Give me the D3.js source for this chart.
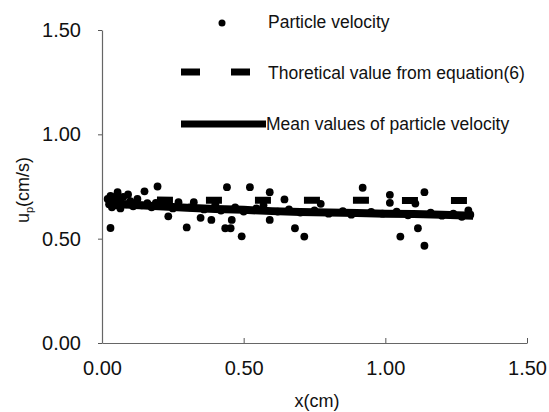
<!DOCTYPE html>
<html lang="en">
<head>
<meta charset="UTF-8">
<script src="https://d3js.org/d3.v7.min.js"></script>
<style>
  html, body { margin: 0; padding: 0; background: #fff; overflow: hidden; }
  svg text { font-family: "Liberation Sans", Arial, sans-serif; fill: #111; }
</style>
</head>
<body>
<svg id="chart" width="549" height="412"></svg>
<script>
// particle velocity measurements (x in cm, u in cm/s)
const dotX = [0.030, 0.055, 0.092, 0.150, 0.196, 0.234, 0.299, 0.324, 0.348, 0.386,
  0.435, 0.441, 0.454, 0.458, 0.493, 0.522, 0.592, 0.592, 0.644, 0.681,
  0.714, 0.772, 0.920, 1.016, 1.016, 1.053, 1.106, 1.115, 1.138, 1.138, 1.293,
  // dense band near the mean
  0.020, 0.025, 0.030, 0.035, 0.040, 0.045, 0.050, 0.060, 0.065, 0.075,
  0.085, 0.100, 0.110, 0.125, 0.140, 0.160, 0.175, 0.190, 0.215, 0.250,
  0.270, 0.310, 0.360, 0.400, 0.420, 0.470, 0.500, 0.545, 0.570, 0.620,
  0.660, 0.700, 0.750, 0.800, 0.850, 0.880, 0.950, 0.990, 1.040, 1.080,
  1.160, 1.200, 1.240, 1.270, 1.300];
const dotY = [0.551, 0.723, 0.712, 0.727, 0.750, 0.607, 0.554, 0.675, 0.600, 0.590,
  0.550, 0.747, 0.550, 0.590, 0.511, 0.747, 0.723, 0.590, 0.688, 0.550,
  0.510, 0.667, 0.744, 0.710, 0.672, 0.510, 0.668, 0.550, 0.723, 0.466, 0.635,
  0.690, 0.665, 0.705, 0.650, 0.680, 0.700, 0.660, 0.690, 0.645, 0.700,
  0.665, 0.680, 0.655, 0.690, 0.660, 0.670, 0.650, 0.672, 0.660, 0.645,
  0.675, 0.650, 0.640, 0.665, 0.635, 0.650, 0.630, 0.645, 0.660, 0.630,
  0.640, 0.625, 0.635, 0.620, 0.632, 0.615, 0.628, 0.620, 0.630, 0.612,
  0.625, 0.610, 0.620, 0.605, 0.615];

// mean values of particle velocity
const meanX = [0.02, 0.1, 0.2, 0.3, 0.4, 0.5, 0.6, 0.7, 0.8, 0.9, 1.0, 1.1, 1.2, 1.31];
const meanY = [0.668, 0.662, 0.655, 0.648, 0.642, 0.638, 0.632, 0.628, 0.625, 0.623, 0.620, 0.618, 0.615, 0.610];

// theoretical value from equation(6)
const theoX = [0.021, 1.31];
const theoY = [0.685, 0.683];

const xTicks = [0, 0.5, 1.0, 1.5];
const yTicks = [0, 0.5, 1.0, 1.5];

const svg = d3.select("#chart");
const x = d3.scaleLinear().domain([0, 1.5]).range([102, 527]);
const y = d3.scaleLinear().domain([0, 1.5]).range([343, 30]);

// axes
const xAxis = svg.append("g").attr("transform", `translate(0,${y(0)})`)
  .call(d3.axisBottom(x).tickValues(xTicks).tickSize(-5).tickSizeOuter(0).tickFormat(d3.format(".2f")));
const yAxis = svg.append("g").attr("transform", `translate(${x(0)},0)`)
  .call(d3.axisLeft(y).tickValues(yTicks).tickSize(4).tickSizeOuter(0).tickFormat(d3.format(".2f")));
[xAxis, yAxis].forEach(a => {
  a.select(".domain").attr("stroke", "#666").attr("stroke-width", 1.2);
  a.selectAll(".tick line").attr("stroke", "#555");
  a.selectAll(".tick text").attr("font-size", 20).attr("fill", "#111")
    .attr("font-family", "Liberation Sans, Arial, sans-serif");
});
xAxis.selectAll(".tick text").attr("y", 18);
yAxis.selectAll(".tick text").attr("x", -21);

// theoretical dashed line
const line = d3.line().x(d => x(d[0])).y(d => y(d[1]));
svg.append("path")
  .datum(d3.zip(theoX, theoY))
  .attr("d", line)
  .attr("fill", "none").attr("stroke", "#000")
  .attr("stroke-width", 7).attr("stroke-dasharray", "16,33");

// points
svg.append("g").selectAll("circle")
  .data(d3.zip(dotX, dotY))
  .join("circle")
  .attr("cx", d => x(d[0])).attr("cy", d => y(d[1])).attr("r", 3.9)
  .attr("fill", "#000");

// mean line
svg.append("path")
  .datum(d3.zip(meanX, meanY))
  .attr("d", line)
  .attr("fill", "none").attr("stroke", "#000")
  .attr("stroke-width", 8);

// legend
const lg = svg.append("g");
lg.append("circle").attr("cx", 222).attr("cy", 23).attr("r", 3.5).attr("fill", "#000");
lg.append("line").attr("x1", 181).attr("x2", 250).attr("y1", 72).attr("y2", 72)
  .attr("stroke", "#000").attr("stroke-width", 7).attr("stroke-dasharray", "19,31");
lg.append("line").attr("x1", 181).attr("x2", 266).attr("y1", 124).attr("y2", 124)
  .attr("stroke", "#000").attr("stroke-width", 7);
const legendText = ["Particle velocity", "Thoretical value from equation(6)", "Mean values of particle velocity"];
const legendY = [28, 79, 130];
const legendX = [268, 268, 266];
lg.selectAll("text").data(legendText).join("text")
  .attr("x", (d, i) => legendX[i]).attr("y", (d, i) => legendY[i])
  .attr("font-size", 17.5).text(d => d);

// axis titles
svg.append("text").attr("x", 317).attr("y", 407).attr("text-anchor", "middle")
  .attr("font-size", 18).text("x(cm)");
const yt = svg.append("text").attr("transform", "translate(29,190) rotate(-90)")
  .attr("text-anchor", "middle").attr("font-size", 18);
yt.append("tspan").text("u");
yt.append("tspan").attr("font-size", 11).attr("dy", 4).text("p");
yt.append("tspan").attr("dy", -4).text("(cm/s)");
</script>
</body>
</html>
